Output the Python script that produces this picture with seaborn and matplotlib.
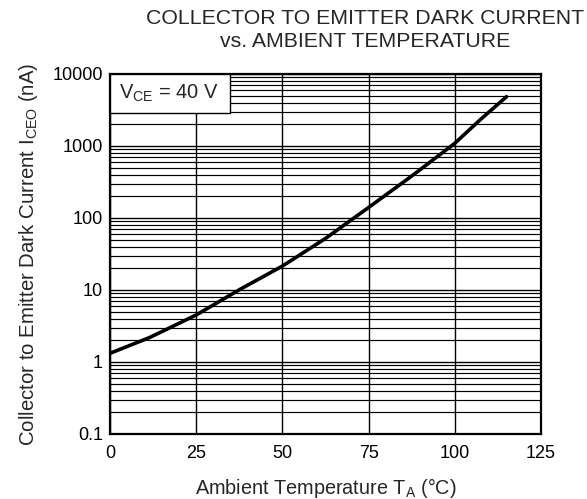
import matplotlib
matplotlib.use("Agg")
import matplotlib.pyplot as plt
import seaborn as sns
import numpy as np
import pandas as pd
from matplotlib.patches import Rectangle
from matplotlib.ticker import LogLocator, NullFormatter, FixedLocator

# Data
temperature_c = [0, 11.6, 25, 37.7, 50, 62.5, 75, 87, 100, 107.3, 115]
dark_current_na = [1.32, 2.2, 4.5, 10.2, 21.5, 52, 140, 367, 1090, 2300, 4840]
x_ticks = [0, 25, 50, 75, 100, 125]
y_ticks = [0.1, 1, 10, 100, 1000, 10000]
y_tick_labels = ["0.1", "1", "10", "100", "1000", "10000"]

sns.set_theme(style="white")
plt.rcParams["font.family"] = ["Liberation Sans", "DejaVu Sans"]
plt.rcParams["mathtext.fontset"] = "custom"
plt.rcParams["mathtext.rm"] = "Liberation Sans"
plt.rcParams["mathtext.it"] = "Liberation Sans"

fig = plt.figure(figsize=(5.87, 4.99), dpi=100)
ax = fig.add_axes([110/587, 1-434/499, 431/587, 360/499])

df = pd.DataFrame({"T": temperature_c, "I": dark_current_na})
sns.lineplot(data=df, x="T", y="I", ax=ax, color="black", lw=2.6, zorder=5)

ax.set_yscale("log")
ax.set_xlim(0, 125)
ax.set_ylim(0.1, 10000)
ax.xaxis.set_major_locator(FixedLocator(x_ticks))
ax.set_yticks(y_ticks)
ax.set_yticklabels(y_tick_labels)
ax.yaxis.set_minor_locator(LogLocator(base=10, subs=np.arange(2, 10)))
ax.yaxis.set_minor_formatter(NullFormatter())

ax.grid(which="major", axis="both", color="black", lw=1.0)
ax.grid(which="minor", axis="y", color="black", lw=0.85)
ax.set_axisbelow(True)

for s in ax.spines.values():
    s.set_color("black")
    s.set_linewidth(1.6)

ax.tick_params(axis="x", which="major", labelsize=13, colors="black",
               length=0, pad=8)
ax.tick_params(axis="y", which="major", labelsize=13, colors="black",
               length=0, pad=5)
ax.tick_params(axis="y", which="minor", length=0)

ax.set_xlabel("Ambient Temperature T$_\\mathregular{A}$ (°C)", fontsize=14.3, labelpad=10)
ax.set_ylabel("Collector to Emitter Dark Current I$_\\mathregular{CEO}$ (nA)", fontsize=14.7, labelpad=9)

# legend-style annotation box
ax.add_patch(Rectangle((0, 0.892), 0.278, 0.108, transform=ax.transAxes,
                       facecolor="white", edgecolor="black", lw=1.0, zorder=6))
ax.text(0.137, 0.947, "V$_\\mathregular{CE}$ = 40 V", transform=ax.transAxes,
        ha="center", va="center", fontsize=14.5, zorder=7)

fig.text(0.622, 0.982, "COLLECTOR TO EMITTER DARK CURRENT\nvs. AMBIENT TEMPERATURE",
         ha="center", va="top", fontsize=15.3, linespacing=1.3)

fig.savefig("out.png", dpi=100, facecolor="white")
